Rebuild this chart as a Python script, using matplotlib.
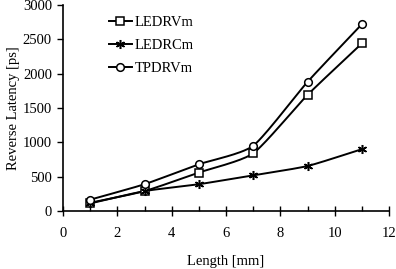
import matplotlib
matplotlib.use("Agg")
import matplotlib.pyplot as plt
import numpy as np

length = [1, 3, 5, 7, 9, 11]
ledrvm = [120, 290, 560, 840, 1690, 2440]
ledrcm = [110, 290, 390, 520, 655, 900]
tpdrvm = [165, 390, 680, 950, 1880, 2720]

plt.rcParams.update({
    "font.family": "Liberation Serif",
    "font.size": 10.5,
})


def smooth(x, y, n=30):
    # catmull-rom curve through the points, like a "smoothed line" in a spreadsheet
    x = np.asarray(x, float)
    y = np.asarray(y, float)
    px = np.concatenate([[2 * x[0] - x[1]], x, [2 * x[-1] - x[-2]]])
    py = np.concatenate([[2 * y[0] - y[1]], y, [2 * y[-1] - y[-2]]])
    xs, ys = [], []
    t = np.linspace(0, 1, n)
    for i in range(1, len(px) - 2):
        p0, p1, p2, p3 = px[i - 1], px[i], px[i + 1], px[i + 2]
        q0, q1, q2, q3 = py[i - 1], py[i], py[i + 1], py[i + 2]
        m1x, m2x = (p2 - p0) / 2 * 0.6, (p3 - p1) / 2 * 0.6
        m1y, m2y = (q2 - q0) / 2 * 0.6, (q3 - q1) / 2 * 0.6
        h00 = 2 * t**3 - 3 * t**2 + 1
        h10 = t**3 - 2 * t**2 + t
        h01 = -2 * t**3 + 3 * t**2
        h11 = t**3 - t**2
        xs.append(h00 * p1 + h10 * m1x + h01 * p2 + h11 * m2x)
        ys.append(h00 * q1 + h10 * m1y + h01 * q2 + h11 * m2y)
    return np.concatenate(xs), np.concatenate(ys)


fig = plt.figure(figsize=(3.96, 2.69), dpi=100)
ax = fig.add_axes([63 / 396, 1 - 211 / 269, 326 / 396, 206 / 269])

series = [
    ("LEDRVm", ledrvm, "s", 5.5),
    ("LEDRCm", ledrcm, (6, 2, 0), 6.5),
    ("TPDRVm", tpdrvm, "o", 5.5),
]
for name, vals, mk, ms in series:
    sx, sy = smooth(length, vals)
    ax.plot(sx, sy, color="black", lw=1.4, zorder=2)
    ax.plot(length, vals, ls="none", marker=mk, ms=ms, mfc="white",
            mec="black", mew=1.1, zorder=3)
    # handle for the legend
    ax.plot([], [], color="black", lw=1.4, marker=mk, ms=ms, mfc="white",
            mec="black", mew=1.1, label=name)

ax.set_xlim(0, 12)
ax.set_ylim(0, 3000)
ax.set_xticks(range(0, 13, 2))
ax.set_xticks(range(1, 12, 2), minor=True)
ax.set_yticks(range(0, 3001, 500))
ax.tick_params(axis="x", which="major", direction="inout", length=7, width=1, pad=8)
ax.tick_params(axis="x", which="minor", direction="in", length=3.5, width=1)
ax.tick_params(axis="y", which="major", direction="out", length=4, width=1, pad=4)
for s in ("top", "right"):
    ax.spines[s].set_visible(False)
for s in ("left", "bottom"):
    ax.spines[s].set_linewidth(1.2)

ax.set_xlabel("Length [mm]", labelpad=11)
ax.set_ylabel("Reverse Latency [ps]", labelpad=2)

ax.legend(loc="upper left", bbox_to_anchor=(0.1, 1.01), frameon=False,
          handlelength=1.6, handletextpad=0.2, labelspacing=0.65)

fig.savefig("out.png", dpi=100, facecolor="white")
